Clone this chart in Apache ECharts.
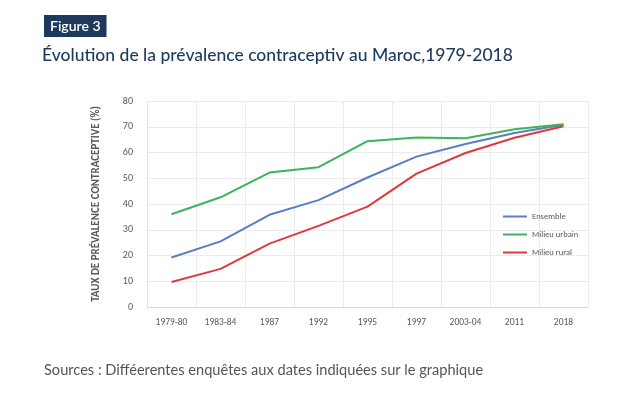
<!DOCTYPE html>
<html>
<head>
<meta charset="utf-8">
<script src="https://cdn.jsdelivr.net/npm/echarts@6/dist/echarts.min.js"></script>
<style>
  html, body { margin: 0; padding: 0; background: #fff; }
  #chart { width: 638px; height: 396px; }
</style>
</head>
<body>
<div id="chart"></div>
<script>
const categories = ["1979-80", "1983-84", "1987", "1992", "1995", "1997", "2003-04", "2011", "2018"];
const ensemble = [19.2, 25.5, 35.8, 41.5, 50.3, 58.4, 63.3, 67.6, 70.8];
const urbain = [36.0, 42.6, 52.2, 54.3, 64.4, 65.8, 65.5, 69.0, 71.0];
const rural = [9.7, 14.8, 24.6, 31.5, 39.0, 51.8, 59.8, 65.7, 70.2];
const yTicks = [0, 10, 20, 30, 40, 50, 60, 70, 80];

const chart = echarts.init(document.getElementById("chart"));
const labelFont = "Calibri, Carlito, 'Liberation Sans', sans-serif";

chart.setOption({
  animation: false,
  color: ["#5a7ec0", "#3cb45c", "#e0393d"],
  title: [
    {
      text: "Figure 3", left: 44, top: 15,
      backgroundColor: "#1d3a5c", padding: [3, 6, 3, 6],
      textStyle: { color: "#fff", fontSize: 14, fontWeight: 600, fontFamily: "Lato, sans-serif", lineHeight: 16 }
    },
    {
      text: "Évolution de la prévalence contraceptiv au Maroc,1979-2018", left: 37, top: 41,
      textStyle: { color: "#1d3a5c", fontSize: 17.5, fontWeight: 500, fontFamily: "Lato, sans-serif" }
    },
    {
      text: "Sources : Difféerentes enquêtes aux dates indiquées sur le graphique", left: 39, top: 358,
      textStyle: { color: "#555", fontSize: 14.6, fontWeight: "normal", fontFamily: "Lato, sans-serif" }
    }
  ],
  legend: {
    orient: "vertical", left: 498, top: 207, itemGap: 9,
    itemWidth: 24, itemHeight: 10, icon: "path://M0,4 L24,4 L24,6 L0,6 Z",
    textStyle: { fontSize: 8.5, color: "#595959", fontFamily: labelFont },
    data: ["Ensemble", "Milieu urbain", "Milieu rural"]
  },
  grid: { left: 147, right: 50, top: 101, bottom: 89 },
  xAxis: {
    type: "category", data: categories, boundaryGap: true,
    axisLine: { lineStyle: { color: "#d9d9d9" } },
    axisTick: { show: false },
    axisLabel: { color: "#595959", fontSize: 9.5, fontFamily: labelFont, margin: 11 },
    splitLine: { show: true, lineStyle: { color: "#ececec" } }
  },
  yAxis: {
    type: "value", min: 0, max: 80, interval: 10,
    name: "TAUX DE PRÉVALENCE CONTRACEPTIVE (%)",
    nameLocation: "middle", nameGap: 45, nameRotate: 90,
    nameTextStyle: { color: "#595959", fontSize: 11, fontWeight: 600, fontFamily: labelFont },
    axisLine: { show: true, lineStyle: { color: "#e3e3e3" } },
    axisTick: { show: false },
    axisLabel: { color: "#595959", fontSize: 10, fontFamily: labelFont, margin: 14,
      formatter: v => yTicks.includes(v) ? String(v) : "" },
    splitLine: { lineStyle: { color: "#ececec" } }
  },
  series: [
    { name: "Ensemble", type: "line", data: ensemble, symbol: "none", lineStyle: { width: 2 } },
    { name: "Milieu urbain", type: "line", data: urbain, symbol: "none", lineStyle: { width: 2 } },
    { name: "Milieu rural", type: "line", data: rural, symbol: "none", lineStyle: { width: 2 } }
  ]
});
</script>
</body>
</html>
